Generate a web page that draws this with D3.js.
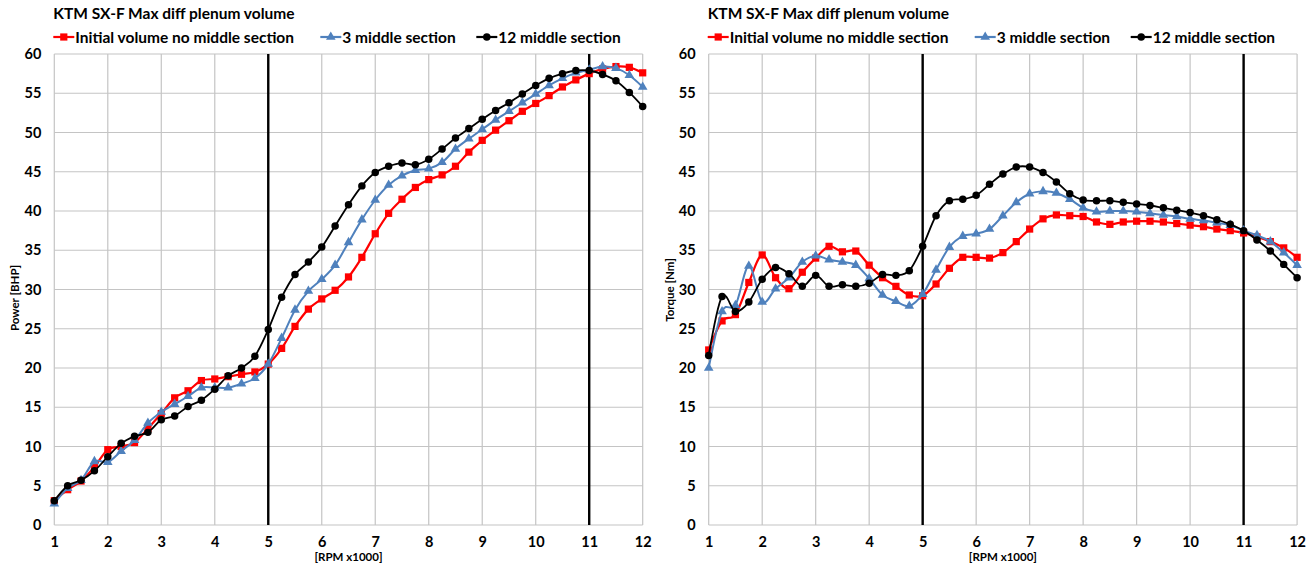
<!DOCTYPE html>
<html>
<head>
<meta charset="utf-8">
<script src="https://cdn.jsdelivr.net/npm/d3@7"></script>
<style>
  html, body { margin: 0; padding: 0; background: #fff; }
  svg { display: block; font-family: Lato, "Open Sans", sans-serif; }
</style>
</head>
<body>
<svg id="chart" width="1313" height="569"></svg>
<script>
// Engine speed in thousands of RPM, one sample every 250 RPM
const rpm = [1, 1.25, 1.5, 1.75, 2, 2.25, 2.5, 2.75, 3, 3.25, 3.5, 3.75, 4, 4.25, 4.5, 4.75,
  5, 5.25, 5.5, 5.75, 6, 6.25, 6.5, 6.75, 7, 7.25, 7.5, 7.75, 8, 8.25, 8.5, 8.75,
  9, 9.25, 9.5, 9.75, 10, 10.25, 10.5, 10.75, 11, 11.25, 11.5, 11.75, 12];

// Power [BHP]
const powerInitial = [3.1, 4.5, 5.6, 7.4, 9.6, 10.0, 10.5, 12.3, 14.2, 16.2, 17.1, 18.4, 18.6, 18.9, 19.2, 19.5,
  20.5, 22.5, 25.3, 27.5, 28.8, 29.9, 31.6, 34.1, 37.1, 39.7, 41.5, 43.0, 44.0, 44.6, 45.7, 47.5,
  49.0, 50.3, 51.5, 52.7, 53.7, 54.7, 55.8, 56.7, 57.5, 58.1, 58.4, 58.3, 57.6];
const power3 = [2.7, 4.7, 5.7, 8.1, 8.0, 9.4, 10.8, 13.0, 14.4, 15.4, 16.4, 17.5, 17.5, 17.5, 18.0, 18.7,
  20.5, 23.8, 27.4, 29.8, 31.3, 33.1, 36.0, 38.9, 41.4, 43.3, 44.5, 45.2, 45.4, 46.2, 47.9, 49.2,
  50.4, 51.6, 52.7, 53.8, 54.9, 56.0, 56.9, 57.6, 58.0, 58.4, 58.2, 57.3, 55.8];
const power12 = [3.1, 5.0, 5.7, 6.9, 8.7, 10.4, 11.3, 11.8, 13.4, 13.9, 15.1, 15.9, 17.3, 19.0, 20.0, 21.5,
  24.9, 29.0, 31.9, 33.5, 35.4, 38.1, 40.8, 43.2, 44.9, 45.7, 46.1, 45.9, 46.6, 47.9, 49.3, 50.5,
  51.7, 52.8, 53.8, 54.9, 56.0, 56.9, 57.5, 57.9, 57.9, 57.4, 56.6, 55.1, 53.3];

// Torque [Nm]
const torqueInitial = [22.3, 26.0, 26.8, 30.9, 34.4, 31.5, 30.1, 32.2, 34.0, 35.5, 34.8, 34.9, 33.1, 31.5, 30.4, 29.3,
  29.2, 30.7, 32.7, 34.1, 34.1, 34.0, 34.7, 36.1, 37.7, 39.0, 39.5, 39.4, 39.3, 38.6, 38.3, 38.6,
  38.7, 38.7, 38.6, 38.4, 38.2, 38.0, 37.7, 37.5, 37.2, 36.7, 36.1, 35.3, 34.1];
const torque3 = [20.0, 27.2, 28.0, 33.0, 28.4, 30.1, 31.5, 33.5, 34.3, 33.8, 33.5, 33.1, 31.4, 29.3, 28.5, 27.9,
  29.4, 32.5, 35.4, 36.8, 37.1, 37.7, 39.4, 41.1, 42.2, 42.5, 42.3, 41.5, 40.4, 39.9, 40.0, 40.0,
  39.9, 39.7, 39.5, 39.3, 39.0, 38.8, 38.5, 38.2, 37.5, 36.9, 36.1, 34.7, 33.1];
const torque12 = [21.6, 29.1, 27.2, 28.4, 31.3, 32.8, 32.0, 30.4, 31.8, 30.4, 30.6, 30.4, 30.8, 31.9, 31.8, 32.4,
  35.5, 39.4, 41.3, 41.5, 42.0, 43.4, 44.7, 45.6, 45.6, 44.9, 43.7, 42.2, 41.4, 41.3, 41.3, 41.1,
  40.9, 40.7, 40.4, 40.1, 39.8, 39.4, 38.9, 38.3, 37.5, 36.3, 34.9, 33.2, 31.5];

const seriesNames = ["Initial volume no middle section", "3 middle section", "12 middle section"];
const xTicks = [1, 2, 3, 4, 5, 6, 7, 8, 9, 10, 11, 12];
const yTicks = [0, 5, 10, 15, 20, 25, 30, 35, 40, 45, 50, 55, 60];
const markerLines = [5, 11];
const chartTitle = "KTM SX-F Max diff plenum volume";
const xTitle = "[RPM x1000]";

const styles = [
  { color: "#ff0000", symbol: d3.symbolSquare, size: 52, width: 2.2 },
  { color: "#4f81bd", symbol: d3.symbolTriangle, size: 40, width: 2.0 },
  { color: "#000000", symbol: d3.symbolCircle, size: 44, width: 1.8 }
];

const panels = [
  { left: 54.3, yTitle: "Power [BHP]", yTitleY: 298, data: [powerInitial, power3, power12] },
  { left: 708.7, yTitle: "Torque [Nm]", yTitleY: 290, data: [torqueInitial, torque3, torque12] }
];

const plotW = 588.4, plotTop = 54, plotBottom = 525;
const svg = d3.select("#chart");

panels.forEach(p => {
  const g = svg.append("g").attr("transform", `translate(${p.left},0)`);
  const x = d3.scaleLinear().domain([1, 12]).range([0, plotW]);
  const y = d3.scaleLinear().domain([0, 60]).range([plotBottom, plotTop]);

  // grid
  g.append("g").attr("class", "grid")
    .selectAll("line").data(yTicks).join("line")
    .attr("x1", 0).attr("x2", plotW)
    .attr("y1", d => y(d)).attr("y2", d => y(d))
    .attr("stroke", "#c4c4c4").attr("stroke-width", 1.2);
  g.append("g").attr("class", "grid")
    .selectAll("line").data(xTicks).join("line")
    .attr("x1", d => x(d)).attr("x2", d => x(d))
    .attr("y1", plotTop).attr("y2", plotBottom)
    .attr("stroke", "#c4c4c4").attr("stroke-width", 1.2);

  // axes (labels only)
  const yAxis = g.append("g").call(d3.axisLeft(y).tickValues(yTicks).tickSize(0).tickPadding(13));
  yAxis.select(".domain").remove();
  yAxis.selectAll("text").attr("font-size", 14.5).attr("font-weight", 700).attr("fill", "#000")
    .attr("font-family", "Lato, sans-serif");

  const xAxis = g.append("g").attr("transform", `translate(0,${plotBottom})`)
    .call(d3.axisBottom(x).tickValues(xTicks).tickSize(0).tickPadding(12).tickFormat(d3.format("d")));
  xAxis.select(".domain").remove();
  xAxis.selectAll("text").attr("font-size", 14.5).attr("font-weight", 700).attr("fill", "#000")
    .attr("font-family", "Lato, sans-serif");

  // reference lines
  g.append("g").selectAll("line").data(markerLines).join("line")
    .attr("x1", d => x(d)).attr("x2", d => x(d))
    .attr("y1", plotTop).attr("y2", plotBottom)
    .attr("stroke", "#000").attr("stroke-width", 2.4);

  // series
  const line = d3.line()
    .x((d, i) => x(rpm[i]))
    .y(d => y(d))
    .curve(d3.curveCatmullRom.alpha(0));

  p.data.forEach((vals, si) => {
    const st = styles[si];
    g.append("path").datum(vals)
      .attr("d", line)
      .attr("fill", "none")
      .attr("stroke", st.color)
      .attr("stroke-width", st.width)
      .attr("stroke-linejoin", "round");
    g.append("g").selectAll("path").data(vals).join("path")
      .attr("transform", (d, i) => `translate(${x(rpm[i])},${y(d)})`)
      .attr("d", d3.symbol().type(st.symbol).size(st.size))
      .attr("fill", st.color);
  });

  // titles
  g.append("text").attr("x", -1).attr("y", 19)
    .attr("font-size", 15.5).attr("font-weight", 700).text(chartTitle);

  g.append("text").attr("x", plotW / 2).attr("y", 561)
    .attr("text-anchor", "middle").attr("font-size", 11.5).attr("font-weight", 700)
    .text(xTitle);

  g.append("text")
    .attr("transform", `translate(-35,${p.yTitleY}) rotate(-90)`)
    .attr("text-anchor", "middle").attr("font-size", 11.5).attr("font-weight", 700)
    .text(p.yTitle);

  // legend
  const legendX = [-1, 266, 422];
  seriesNames.forEach((name, si) => {
    const st = styles[si];
    const lg = g.append("g").attr("transform", `translate(${legendX[si]},37)`);
    lg.append("line").attr("x1", 0).attr("x2", 21).attr("y1", 0).attr("y2", 0)
      .attr("stroke", st.color).attr("stroke-width", 2.2);
    lg.append("path").attr("transform", "translate(10.5,0)")
      .attr("d", d3.symbol().type(st.symbol).size(st.size)).attr("fill", st.color);
    lg.append("text").attr("x", 22).attr("y", 5.5)
      .attr("font-size", 15.5).attr("font-weight", 700).text(name);
  });
});
</script>
</body>
</html>
